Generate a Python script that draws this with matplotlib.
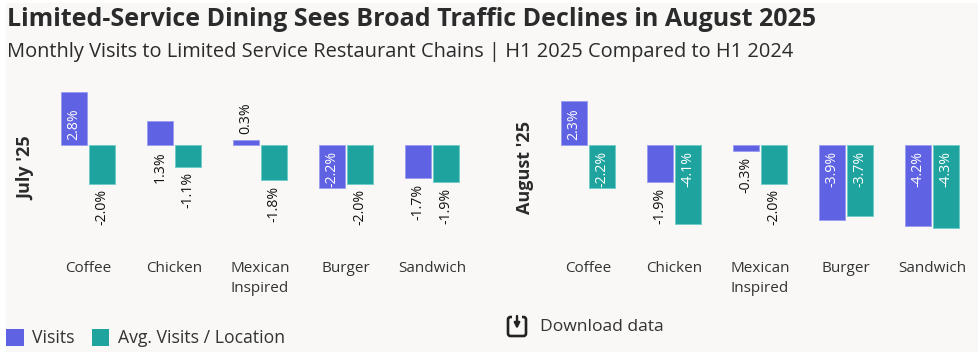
import matplotlib
matplotlib.use('Agg')
import matplotlib.pyplot as plt
from matplotlib.patches import Rectangle, FancyBboxPatch

categories = ['Coffee', 'Chicken', 'Mexican\nInspired', 'Burger', 'Sandwich']
july_visits = [2.8, 1.3, 0.3, -2.2, -1.7]
july_avg = [-2.0, -1.1, -1.8, -2.0, -1.9]
aug_visits = [2.3, -1.9, -0.3, -3.9, -4.2]
aug_avg = [-2.2, -4.1, -2.0, -3.7, -4.3]

W, H = 979, 352
BG = '#F9F8F7'
VISITS = '#5F63E3'
AVG = '#1FA39E'
DARK = '#2B2B2B'
plt.rcParams['font.family'] = ['Open Sans', 'DejaVu Sans']


def px_axes(fig, left, top, right, bottom):
    return fig.add_axes([left / W, 1 - bottom / H, (right - left) / W, (bottom - top) / H])


def label_bar(ax, x, v):
    # tall bars carry the label inside the bar, the rest sit outside
    gap = 0.29
    if abs(v) >= 2.2:
        y, va = (gap, 'bottom') if v > 0 else (-gap, 'top')
        color = 'white'
    elif v == 1.3:
        # the source chart drops this one under the baseline
        y, va = -gap, 'top'
        color = '#111111'
    else:
        y, va = (v + gap, 'bottom') if v > 0 else (v - gap, 'top')
        color = '#111111'
    ax.text(x, y, f'{v:.1f}%', rotation=90, ha='center', va=va, color=color, fontsize=10.2)


def panel(fig, left, visits, avg, name, name_x):
    ax = px_axes(fig, left, 75, left + 430, 250)
    ax.set_facecolor('none')
    xs = list(range(len(categories)))
    off = 14 / 86
    ax.bar([x - off for x in xs], visits, width=26 / 86, color=VISITS, edgecolor='#9A9DEE', linewidth=0.6)
    ax.bar([x + off for x in xs], avg, width=26 / 86, color=AVG, edgecolor='#6CCBC6', linewidth=0.6)
    for i in xs:
        label_bar(ax, i - off, visits[i])
        label_bar(ax, i + off, avg[i])
    ax.set_xlim(-0.5, 4.5)
    ax.set_ylim(-5.46, 3.68)
    ax.set_yticks([])
    ax.set_xticks(xs)
    ax.set_xticklabels(categories, fontsize=11, color='#333333', linespacing=1.4)
    ax.tick_params(axis='x', length=0, pad=8)
    for s in ax.spines.values():
        s.set_visible(False)
    fig.text(name_x / W, 1 - 168 / H, name, rotation=90, ha='center', va='center',
             fontsize=13, fontweight='bold', color=DARK)


fig = plt.figure(figsize=(W / 100, H / 100), dpi=100, facecolor='white')
fig.add_artist(Rectangle((6 / W, 0), 1 - 6 / W, 1 - 3 / H, transform=fig.transFigure, color=BG, zorder=-5))

fig.text(7 / W, 1 - 20 / H, 'Limited-Service Dining Sees Broad Traffic Declines in August 2025',
         fontsize=18, fontweight='bold', color=DARK, va='center')
fig.text(7 / W, 1 - 52 / H, 'Monthly Visits to Limited Service Restaurant Chains | H1 2025 Compared to H1 2024',
         fontsize=14.38, color=DARK, va='center')

panel(fig, 45, july_visits, july_avg, "July '25", 26)
panel(fig, 545, aug_visits, aug_avg, "August '25", 525)

# overlay in pixel coords for the legend and download icon
over = fig.add_axes([0, 0, 1, 1], zorder=5)
over.set_xlim(0, W)
over.set_ylim(H, 0)
over.axis('off')

over.add_patch(Rectangle((6, 329), 18, 17, color=VISITS, lw=0))
over.text(32, 338, 'Visits', fontsize=12.7, color='#333333', va='center')
over.add_patch(Rectangle((92, 329), 17, 17, color=AVG, lw=0))
over.text(118, 338, 'Avg. Visits / Location', fontsize=12.7, color='#333333', va='center')

over.add_patch(FancyBboxPatch((508, 317), 18, 19, boxstyle='round,pad=0,rounding_size=2.5',
                              facecolor='none', edgecolor='#222222', linewidth=1.9))
over.add_patch(Rectangle((512, 314), 10, 6, color=BG, lw=0))
over.annotate('', xy=(517, 329), xytext=(517, 316),
              arrowprops=dict(arrowstyle='-|>', color='#222222', lw=1.7, mutation_scale=8,
                              shrinkA=0, shrinkB=0))
over.text(540, 327, 'Download data', fontsize=12.6, color='#333333', va='center')

fig.savefig('out.png', dpi=100, facecolor=fig.get_facecolor())
